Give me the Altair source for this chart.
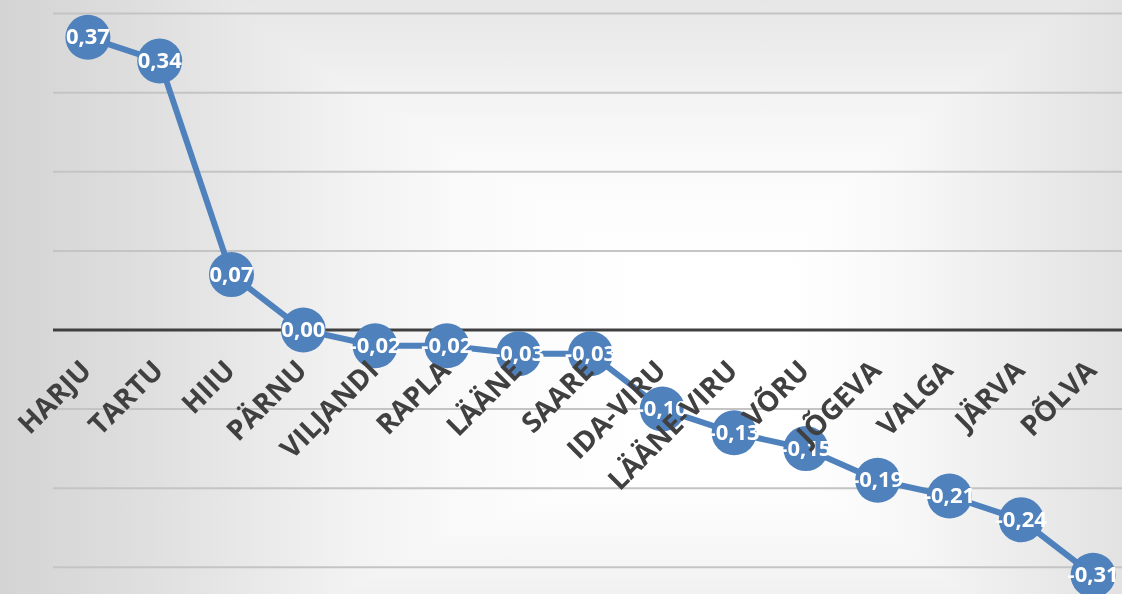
import altair as alt
import pandas as pd

# County index values, in plotting order
regions = ["HARJU", "TARTU", "HIIU", "PÄRNU", "VILJANDI", "RAPLA", "LÄÄNE", "SAARE",
           "IDA-VIRU", "LÄÄNE-VIRU", "VÕRU", "JÕGEVA", "VALGA", "JÄRVA", "PÕLVA"]
values = [0.37, 0.34, 0.07, 0.00, -0.02, -0.02, -0.03, -0.03,
          -0.10, -0.13, -0.15, -0.19, -0.21, -0.24, -0.31]

# Horizontal gridline levels (zero gets its own darker rule)
grid_levels = [0.4, 0.3, 0.2, 0.1, -0.1, -0.2, -0.3]
y_domain = [-0.3338, 0.4172]

df = pd.DataFrame({
    "region": regions,
    "value": values,
    "label": [f"{v:.2f}".replace(".", ",") for v in values],
})
grid_df = pd.DataFrame({"level": grid_levels})

BLUE = "#4f81bd"
W, H, LEFT = 1069, 594, 53

# Backdrop shading stops (offset, grey level)
h_stops = [(0.0, "#d4d4d4"), (0.1, "#dcdcdc"), (0.2, "#e6e6e6"), (0.3, "#f1f1f1"),
           (0.4, "#f9f9f9"), (0.5, "#fdfdfd"), (0.58, "#ffffff"), (0.7, "#ffffff"),
           (0.8, "#f8f8f8"), (0.9, "#ededed"), (1.0, "#e2e2e2")]
v_stops = [(0.0, "#e6e6e6"), (0.1, "#eeeeee"), (0.2, "#f6f6f6"), (0.3, "#fbfbfb"),
           (0.4, "#fefefe"), (0.5, "#ffffff"), (0.8, "#ffffff"), (0.9, "#f9f9f9"),
           (1.0, "#f1f1f1")]


def stops(pairs):
    return [alt.GradientStop(offset=o, color=c) for o, c in pairs]


x_enc = alt.X(
    "region:N", sort=regions,
    scale=alt.Scale(type="point", padding=0.5, range=[-1, 1076]),
    axis=alt.Axis(
        title=None, domain=False, ticks=False, tickSize=0, grid=False,
        labelAngle=315, labelAlign="right", labelBaseline="middle",
        labelPadding=36, labelOffset=-1, offset=-264, zindex=1,
        labelFont="Open Sans", labelFontWeight="bold", labelFontSize=28,
        labelColor="#404040", labelOverlap=False, labelBound=False, labelFlush=False,
    ),
)
y_scale = alt.Scale(domain=y_domain, nice=False, zero=False)

# Soft light-grey backdrop: two crossed linear gradients combined with "darken"
bg_h = alt.Chart(df.head(1)).mark_rect(
    color=alt.Gradient(gradient="linear", x1=0, y1=0, x2=1, y2=0, stops=stops(h_stops))
).encode(x=alt.value(-LEFT), x2=alt.value(W), y=alt.value(0), y2=alt.value(H))

bg_v = alt.Chart(df.head(1)).mark_rect(
    blend="darken",
    color=alt.Gradient(gradient="linear", x1=0, y1=0, x2=0, y2=1, stops=stops(v_stops)),
).encode(x=alt.value(-LEFT), x2=alt.value(W), y=alt.value(0), y2=alt.value(H))

grid = alt.Chart(grid_df).mark_rule(color="#c4c4c4", strokeWidth=2).encode(
    y=alt.Y("level:Q", scale=y_scale, axis=None)
)

zero = alt.Chart(df.head(1)).mark_rule(color="#404040", strokeWidth=3).encode(
    y=alt.datum(0, scale=y_scale, axis=None)
)

line = alt.Chart(df).mark_line(color=BLUE, strokeWidth=6).encode(
    x=x_enc, y=alt.Y("value:Q", scale=y_scale, axis=None)
)

# Vega circle size is the area of the bounding square, so diameter = sqrt(size)
dots = alt.Chart(df).mark_circle(color=BLUE, opacity=1, size=2025).encode(
    x=x_enc, y=alt.Y("value:Q", scale=y_scale, axis=None)
)

labels = alt.Chart(df).mark_text(
    color="white", font="Open Sans", fontWeight="bold", fontSize=22,
    align="center", baseline="middle",
).encode(
    x=x_enc, y=alt.Y("value:Q", scale=y_scale, axis=None), text="label:N"
)

chart = alt.layer(bg_h, bg_v, grid, zero, line, dots, labels).properties(
    width=W, height=H,
    autosize=alt.AutoSizeParams(type="none"),
    padding={"left": LEFT, "top": 0, "right": 0, "bottom": 0},
    background="white",
).configure_view(stroke=None)

chart.save("out.html", embed_options={"renderer": "svg", "actions": False})
